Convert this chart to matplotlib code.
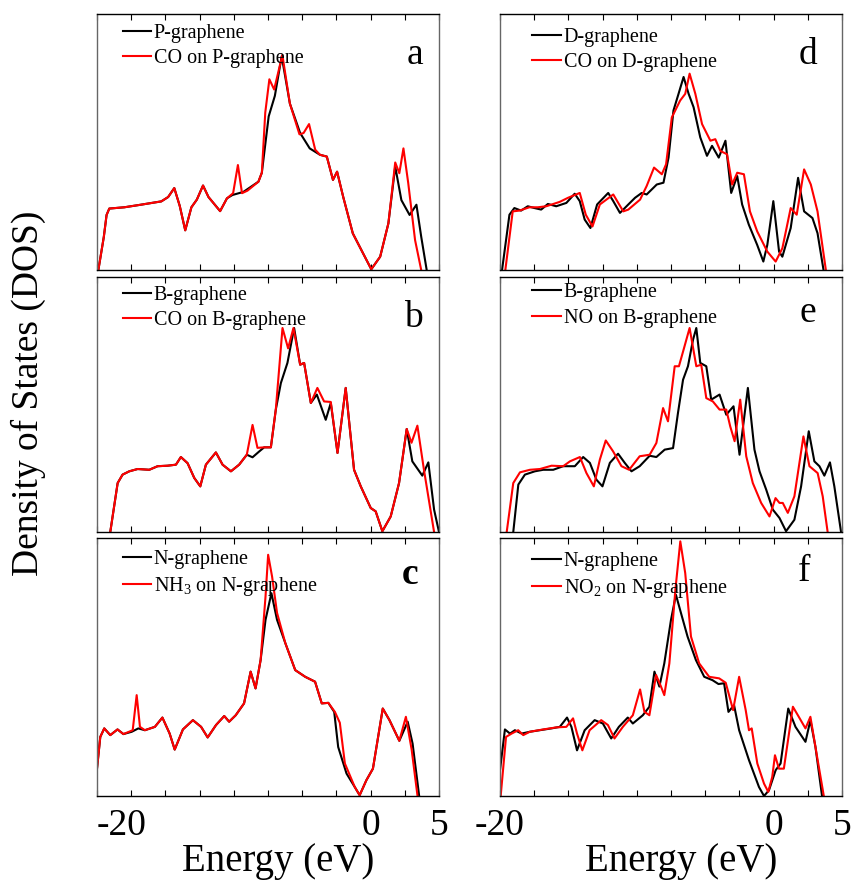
import matplotlib
matplotlib.use("Agg")
import matplotlib.pyplot as plt
import numpy as np

plt.rcParams["font.family"] = ["Liberation Serif", "DejaVu Serif"]
plt.rcParams["mathtext.fontset"] = "custom"
plt.rcParams["mathtext.rm"] = "Liberation Serif"

# ---- panel a: CO on P-graphene ----
a_black_e = [-19.9, -19.5, -19.3, -19.1, -18.0, -16.8, -15.3, -14.8, -14.35, -13.95, -13.55, -13.1,
             -12.7, -12.25, -11.85, -11.0, -10.5, -10.1, -9.3, -8.2, -7.95, -7.45, -7.0, -6.5,
             -5.9, -5.15, -4.45, -3.7, -3.2, -2.75, -2.45, -2.0, -1.3, -0.55, 0.05, 0.7, 1.3, 1.8,
             2.25, 2.85, 3.35, 3.7, 4.1]
a_black_v = [0, 0.13, 0.215, 0.24, 0.245, 0.255, 0.268, 0.285, 0.32, 0.25, 0.155, 0.245, 0.275,
             0.33, 0.285, 0.23, 0.28, 0.293, 0.305, 0.345, 0.38, 0.6, 0.68, 0.835, 0.65, 0.535,
             0.475, 0.45, 0.443, 0.352, 0.384, 0.285, 0.143, 0.065, 0.003, 0.052, 0.182, 0.404,
             0.273, 0.215, 0.255, 0.13, 0.0]
a_red_e = [-19.9, -19.5, -19.3, -19.1, -18.0, -16.8, -15.3, -14.8, -14.35, -13.95, -13.55, -13.1,
           -12.7, -12.25, -11.85, -11.0, -10.5, -10.05, -9.7, -9.4, -9.0, -8.2, -7.95, -7.7, -7.4,
           -7.05, -6.45, -5.9, -5.2, -4.9, -4.5, -4.05, -3.7, -3.2, -2.75, -2.45, -2.0, -1.3,
           -0.55, 0.05, 0.7, 1.3, 1.8, 2.1, 2.4, 2.75, 3.25, 3.7]
a_red_v = [0, 0.13, 0.215, 0.24, 0.245, 0.255, 0.268, 0.285, 0.32, 0.25, 0.155, 0.245, 0.275,
           0.33, 0.285, 0.23, 0.28, 0.3, 0.41, 0.3, 0.31, 0.345, 0.38, 0.615, 0.745, 0.705, 0.84,
           0.65, 0.53, 0.535, 0.57, 0.47, 0.45, 0.443, 0.352, 0.384, 0.285, 0.143, 0.065, 0.003,
           0.052, 0.182, 0.42, 0.378, 0.475, 0.34, 0.117, 0.0]

# ---- panel b: CO on B-graphene ----
b_black_e = [-19.03, -18.49, -18.13, -17.64, -17.03, -16.18, -15.57, -14.84, -14.23, -13.87, -13.38,
             -12.89, -12.45, -12.04, -11.31, -10.82, -10.21, -9.61, -9.05, -8.63, -8.14, -7.78,
             -7.29, -6.93, -6.56, -6.08, -5.59, -5.15, -4.86, -4.37, -3.93, -3.28, -2.91, -2.42,
             -1.82, -1.21, -0.72, 0.01, 0.37, 0.86, 1.47, 2.08, 2.64, 3.05, 3.78, 4.22, 4.64, 5.0]
b_black_v = [0, 0.192, 0.225, 0.238, 0.247, 0.244, 0.258, 0.26, 0.264, 0.294, 0.27, 0.212, 0.179,
             0.264, 0.312, 0.264, 0.238, 0.264, 0.303, 0.293, 0.316, 0.332, 0.332, 0.48, 0.584,
             0.663, 0.8, 0.656, 0.663, 0.506, 0.539, 0.44, 0.506, 0.31, 0.565, 0.244, 0.179, 0.094,
             0.081, 0.003, 0.061, 0.192, 0.404, 0.277, 0.221, 0.273, 0.088, 0]
b_red_e = [-19.03, -18.49, -18.13, -17.64, -17.03, -16.18, -15.57, -14.84, -14.23, -13.87, -13.38,
           -12.89, -12.45, -12.04, -11.31, -10.82, -10.21, -9.61, -9.05, -8.63, -8.27, -7.78,
           -7.29, -6.93, -6.44, -6.03, -5.64, -5.15, -4.86, -4.37, -3.89, -3.4, -2.91, -2.42,
           -1.82, -1.21, -0.72, 0.01, 0.37, 0.86, 1.47, 2.08, 2.64, 2.99, 3.42, 3.9, 4.64]
b_red_v = [0, 0.192, 0.225, 0.238, 0.247, 0.244, 0.258, 0.26, 0.264, 0.294, 0.27, 0.212, 0.179,
           0.264, 0.312, 0.264, 0.238, 0.264, 0.303, 0.42, 0.33, 0.332, 0.332, 0.48, 0.8, 0.72,
           0.8, 0.656, 0.663, 0.506, 0.565, 0.512, 0.51, 0.31, 0.565, 0.244, 0.179, 0.094, 0.081,
           0.003, 0.061, 0.192, 0.404, 0.35, 0.417, 0.244, 0]

# ---- panel c: NH3 on N-graphene ----
c_black_e = [-20.0, -19.76, -19.47, -19.03, -18.5, -18.07, -17.46, -16.98, -16.5, -15.77, -15.22,
             -14.69, -14.32, -13.72, -12.99, -12.39, -11.91, -11.3, -10.7, -10.34, -9.86, -9.25,
             -8.77, -8.41, -8.04, -7.68, -7.25, -6.84, -6.23, -5.51, -4.78, -4.06, -3.57, -3.09,
             -2.66, -2.37, -1.76, -1.16, -0.8, -0.31, 0.17, 0.89, 1.38, 2.1, 2.71, 3.07, 3.55]
c_black_v = [0.106, 0.229, 0.262, 0.236, 0.258, 0.24, 0.249, 0.262, 0.255, 0.268, 0.304, 0.242,
             0.18, 0.258, 0.294, 0.268, 0.227, 0.275, 0.31, 0.288, 0.313, 0.359, 0.482, 0.417,
             0.527, 0.683, 0.786, 0.683, 0.592, 0.488, 0.462, 0.443, 0.359, 0.361, 0.326, 0.19,
             0.087, 0.035, 0.003, 0.061, 0.106, 0.339, 0.294, 0.214, 0.288, 0.203, 0]
c_red_e = [-20.0, -19.76, -19.47, -19.03, -18.5, -18.07, -17.39, -17.1, -16.86, -16.5, -15.77,
           -15.22, -14.69, -14.32, -13.72, -12.99, -12.39, -11.91, -11.3, -10.7, -10.34, -9.86,
           -9.25, -8.77, -8.41, -8.04, -7.68, -7.49, -7.2, -6.84, -6.23, -5.51, -4.78, -4.06,
           -3.57, -3.09, -2.61, -2.25, -1.88, -1.16, -0.8, -0.31, 0.17, 0.89, 1.38, 2.1, 2.58, 3.0,
           3.43]
c_red_v = [0.106, 0.229, 0.262, 0.236, 0.258, 0.24, 0.255, 0.391, 0.268, 0.255, 0.268, 0.304,
           0.242, 0.18, 0.258, 0.294, 0.268, 0.227, 0.275, 0.31, 0.288, 0.313, 0.359, 0.482, 0.417,
           0.527, 0.774, 0.935, 0.85, 0.71, 0.592, 0.488, 0.462, 0.443, 0.359, 0.361, 0.326, 0.284,
           0.126, 0.035, 0.003, 0.061, 0.106, 0.339, 0.294, 0.214, 0.307, 0.18, 0]

# ---- panel d: CO on D-graphene ----
d_black_e = [-19.85, -19.31, -18.95, -18.46, -17.97, -17.48, -16.99, -16.5, -15.89, -15.15, -14.54,
             -14.17, -13.81, -13.39, -12.9, -12.09, -11.72, -11.23, -10.62, -10.13, -9.64, -9.28,
             -8.54, -8.05, -7.68, -7.32, -6.95, -6.58, -6.21, -5.85, -5.36, -4.87, -4.5, -4.01,
             -3.52, -3.1, -2.66, -2.3, -1.81, -1.2, -0.75, -0.46, -0.02, 0.4, 0.64, 1.25, 1.79,
             2.23, 2.84, 3.21, 3.65]
d_black_v = [0, 0.216, 0.242, 0.232, 0.249, 0.242, 0.236, 0.258, 0.249, 0.262, 0.298, 0.269, 0.197,
             0.164, 0.256, 0.301, 0.269, 0.223, 0.256, 0.282, 0.301, 0.295, 0.334, 0.341, 0.439,
             0.623, 0.688, 0.754, 0.688, 0.636, 0.518, 0.446, 0.485, 0.439, 0.505, 0.301, 0.367,
             0.256, 0.177, 0.098, 0.033, 0.098, 0.269, 0.072, 0.052, 0.164, 0.36, 0.229, 0.203,
             0.144, 0]
d_red_e = [-19.61, -19.07, -18.58, -17.85, -17.23, -16.62, -15.64, -15.03, -14.17, -13.73, -13.24,
           -12.7, -11.72, -10.99, -10.62, -9.76, -9.28, -8.74, -8.17, -7.86, -7.44, -6.83, -6.46,
           -6.14, -5.72, -5.23, -4.62, -4.26, -3.89, -3.4, -3.03, -2.66, -2.17, -1.73, -1.2, -0.46,
           0.15, 0.64, 1.25, 1.69, 2.23, 2.72, 3.21, 3.82]
d_red_v = [0, 0.229, 0.232, 0.245, 0.245, 0.249, 0.266, 0.282, 0.301, 0.216, 0.17, 0.256, 0.295,
           0.229, 0.236, 0.275, 0.328, 0.4, 0.374, 0.413, 0.596, 0.662, 0.688, 0.767, 0.688, 0.57,
           0.505, 0.511, 0.465, 0.452, 0.334, 0.38, 0.374, 0.229, 0.151, 0.072, 0.033, 0.085,
           0.242, 0.216, 0.393, 0.334, 0.229, 0]

# ---- panel e: NO on B-graphene ----
e_black_e = [-19.03, -18.66, -18.18, -17.45, -16.84, -16.11, -15.38, -14.53, -13.92, -13.43, -12.95,
             -12.51, -11.97, -11.37, -10.88, -10.39, -9.79, -9.06, -8.57, -7.96, -7.35, -6.99,
             -6.62, -6.26, -5.89, -5.65, -5.36, -4.92, -4.56, -3.95, -3.46, -2.93, -2.49, -1.88,
             -1.4, -1.03, -0.54, -0.06, 0.43, 0.91, 1.52, 2.01, 2.57, 2.98, 3.35, 3.71, 4.12, 4.44,
             4.93]
e_black_v = [0, 0.186, 0.225, 0.238, 0.244, 0.244, 0.258, 0.258, 0.294, 0.271, 0.205, 0.179, 0.271,
             0.307, 0.271, 0.238, 0.258, 0.299, 0.294, 0.323, 0.329, 0.467, 0.597, 0.65, 0.754,
             0.8, 0.663, 0.65, 0.519, 0.539, 0.46, 0.493, 0.303, 0.565, 0.323, 0.238, 0.166, 0.088,
             0.055, 0.003, 0.048, 0.179, 0.395, 0.277, 0.258, 0.221, 0.273, 0.179, 0]
e_red_e = [-19.51, -19.03, -18.54, -17.81, -17.08, -16.23, -15.38, -14.89, -14.16, -13.68, -13.14,
           -12.7, -12.27, -11.73, -11.12, -10.56, -9.79, -9.06, -8.57, -8.08, -7.72, -7.23, -6.92,
           -6.58, -6.14, -5.65, -5.29, -4.92, -4.44, -3.95, -3.46, -3.17, -2.85, -2.44, -2.0,
           -1.52, -0.91, -0.3, 0.14, 0.43, 0.67, 1.04, 1.52, 2.18, 2.62, 3.22, 3.59, 3.95]
e_red_v = [0, 0.192, 0.234, 0.244, 0.247, 0.26, 0.258, 0.277, 0.294, 0.231, 0.179, 0.284, 0.359,
           0.316, 0.258, 0.244, 0.297, 0.303, 0.349, 0.486, 0.434, 0.65, 0.65, 0.715, 0.8, 0.65,
           0.656, 0.525, 0.512, 0.48, 0.48, 0.414, 0.356, 0.519, 0.297, 0.192, 0.114, 0.061,
           0.133, 0.114, 0.114, 0.075, 0.14, 0.375, 0.258, 0.231, 0.14, 0]

# ---- panel f: NO2 on N-graphene ----
f_black_e = [-20.0, -19.64, -19.27, -18.91, -18.42, -17.82, -17.09, -16.24, -15.63, -15.1, -14.78,
             -14.37, -13.81, -13.08, -12.48, -11.87, -11.31, -10.66, -10.29, -9.56, -9.08, -8.71,
             -8.35, -7.99, -7.5, -7.14, -6.77, -6.29, -5.68, -5.07, -4.47, -4.03, -3.62, -3.3,
             -2.89, -2.52, -1.8, -1.07, -0.7, -0.34, 0.15, 0.51, 1.07, 1.6, 2.33, 2.69, 3.06, 3.54]
f_black_v = [0.1, 0.258, 0.242, 0.255, 0.242, 0.249, 0.255, 0.262, 0.268, 0.304, 0.268, 0.177,
             0.255, 0.294, 0.281, 0.223, 0.268, 0.304, 0.281, 0.313, 0.346, 0.482, 0.424, 0.514,
             0.683, 0.78, 0.709, 0.618, 0.527, 0.462, 0.449, 0.434, 0.437, 0.326, 0.352, 0.255,
             0.139, 0.035, 0, 0.022, 0.1, 0.126, 0.339, 0.268, 0.21, 0.294, 0.19, 0]
f_red_e = [-19.95, -19.56, -19.15, -18.67, -18.3, -17.82, -16.84, -15.87, -15.15, -14.66, -14.37,
           -13.98, -13.45, -12.6, -12.11, -11.63, -11.02, -10.29, -9.76, -9.44, -9.08, -8.59,
           -8.23, -7.99, -7.62, -7.18, -6.82, -6.46, -6.04, -5.44, -4.71, -3.98, -3.5, -2.96,
           -2.52, -2.04, -1.8, -1.6, -1.19, -0.7, -0.39, -0.1, 0.1, 0.39, 0.75, 1.41, 1.84, 2.33,
           2.69, 3.18, 3.67]
f_red_v = [0, 0.229, 0.242, 0.255, 0.236, 0.249, 0.258, 0.266, 0.268, 0.301, 0.242, 0.177, 0.255,
           0.294, 0.275, 0.223, 0.268, 0.313, 0.413, 0.326, 0.313, 0.469, 0.424, 0.391, 0.514,
           0.799, 0.987, 0.864, 0.618, 0.514, 0.462, 0.456, 0.439, 0.333, 0.462, 0.333, 0.255,
           0.262, 0.126, 0.048, 0.016, 0.074, 0.158, 0.106, 0.106, 0.346, 0.307, 0.262, 0.307,
           0.152, 0]

panel_letters = ["a", "b", "c", "d", "e", "f"]
black_labels = ["P-graphene", "B-graphene", "N-graphene", "D-graphene", "B-graphene", "N-graphene"]
red_labels = ["CO on P-graphene", "CO on B-graphene", "NH$_3$ on N-graphene",
              "CO on D-graphene", "NO on B-graphene", "NO$_2$ on N-graphene"]
tick_labels = {-20: "-20", 0: "0", 5: "5"}

series = [
    (a_black_e, a_black_v, a_red_e, a_red_v),
    (b_black_e, b_black_v, b_red_e, b_red_v),
    (c_black_e, c_black_v, c_red_e, c_red_v),
    (d_black_e, d_black_v, d_red_e, d_red_v),
    (e_black_e, e_black_v, e_red_e, e_red_v),
    (f_black_e, f_black_v, f_red_e, f_red_v),
]

W, H = 856, 884
col_left = [97, 500]
col_width = 342
rows = [(14, 270), (277, 532), (538, 796)]
legend_anchor = [(0.075, 0.96), (0.075, 0.965), (0.075, 0.955),
                 (0.095, 0.945), (0.095, 0.975), (0.095, 0.945)]
letter_pos = [(0.93, 0.84), (0.925, 0.84), (0.915, 0.86),
              (0.9, 0.84), (0.9, 0.86), (0.89, 0.87)]


def main():
    fig = plt.figure(figsize=(W / 100, H / 100), dpi=100)
    for i, (be, bv, re_, rv) in enumerate(series):
        col, row = divmod(i, 3)
        top, bot = rows[row]
        ax = fig.add_axes([col_left[col] / W, 1 - bot / H, col_width / W, (bot - top) / H])
        ax.plot(be, bv, color="black", lw=1.5, label=black_labels[i], solid_joinstyle="round")
        ax.plot(re_, rv, color="red", lw=1.5, label=red_labels[i], solid_joinstyle="round")
        ax.set_xlim(-20, 5)
        ax.set_ylim(0, 1)
        ax.set_yticks([])
        ticks = np.arange(-20, 5.01, 2.5)
        ax.set_xticks(ticks)
        if row == 2:
            ax.set_xticklabels([tick_labels.get(int(t), "") if t == int(t) else "" for t in ticks],
                               fontsize=27)
            if col == 0:
                ax.get_xticklabels()[0].set_horizontalalignment("left")
            ax.set_xlabel("Energy (eV)", fontsize=28, labelpad=0)
            ax.xaxis.label.set_x(0.53)
        else:
            ax.set_xticklabels([])
        ax.tick_params(axis="x", direction="in", top=True, length=4, width=0.8, pad=9)
        for side in ("left", "right"):
            ax.spines[side].set_color("#666666")
        for spine in ax.spines.values():
            spine.set_linewidth(1)
        ax.legend(loc="upper left", bbox_to_anchor=legend_anchor[i], frameon=False,
                  fontsize=14.5, handlelength=1.4, handletextpad=0.15, labelspacing=0.3,
                  borderpad=0, borderaxespad=0)
        weight = "bold" if panel_letters[i] == "c" else "normal"
        ax.text(*letter_pos[i], panel_letters[i], transform=ax.transAxes, fontsize=27,
                ha="center", va="center", fontweight=weight)

    fig.text(28 / W, 1 - 393 / H, "Density of States (DOS)", rotation=90, fontsize=27,
             ha="center", va="center")
    fig.savefig("out.png", dpi=100)


if __name__ == "__main__":
    main()
